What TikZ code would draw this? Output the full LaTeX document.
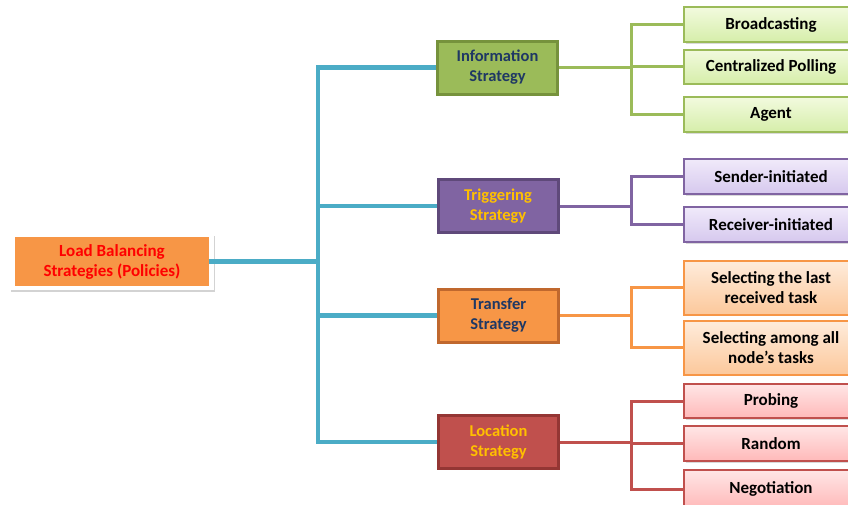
\documentclass[tikz,border=0pt]{standalone}
\usepackage{fontspec}
\setmainfont{Carlito}
\usetikzlibrary{shadows}
\definecolor{cblue}{HTML}{4BACC6}
\definecolor{cgreen}{HTML}{9BBB59}
\definecolor{cgreenD}{HTML}{76923C}
\definecolor{cpurple}{HTML}{8064A2}
\definecolor{cpurpleD}{HTML}{5F497A}
\definecolor{corange}{HTML}{F79646}
\definecolor{corangeD}{HTML}{C0682E}
\definecolor{cred}{HTML}{C0504D}
\definecolor{credD}{HTML}{943634}
\definecolor{cnavy}{HTML}{1F3864}
\definecolor{cgold}{HTML}{FFC000}
\tikzset{
  base/.style={rectangle, inner sep=0pt, align=center, font=\bfseries\fontsize{17}{20}\selectfont},
  mid/.style={base, minimum width=120pt, minimum height=53pt, line width=3pt,
    drop shadow={shadow xshift=1.5pt, shadow yshift=-1.5pt, opacity=0.25},
    font=\bfseries\fontsize{16.5}{20}\selectfont},
  leaf/.style={base, minimum width=174pt, line width=2pt, text=black,
    drop shadow={shadow xshift=1.5pt, shadow yshift=-1.5pt, opacity=0.3}},
  gleaf/.style={leaf, draw=cgreen, top color={rgb,255:red,242;green,250;blue,222}, bottom color={rgb,255:red,214;green,238;blue,170}},
  pleaf/.style={leaf, draw=cpurple, top color={rgb,255:red,240;green,234;blue,250}, bottom color={rgb,255:red,214;green,200;blue,238}},
  oleaf/.style={leaf, draw=corange, top color={rgb,255:red,254;green,236;blue,220}, bottom color={rgb,255:red,252;green,200;blue,155}},
  rleaf/.style={leaf, draw=cred, top color={rgb,255:red,255;green,230;blue,230}, bottom color={rgb,255:red,255;green,185;blue,185}},
  trunk/.style={draw=cblue, line width=4.5pt},
  twig/.style={line width=3pt}
}
\begin{document}
\begin{tikzpicture}[x=1pt,y=-1pt]
\useasboundingbox (0,0) rectangle (848,504);
% root
\node[base, fill=white, minimum width=204pt, minimum height=56pt,
  drop shadow={shadow xshift=1pt, shadow yshift=-2pt, opacity=0.35}] (rootframe) at (112,262) {};
\node[base, fill=corange, minimum width=194pt, minimum height=49pt, text=red] (root) at (112,261.5) {Load Balancing\\Strategies (Policies)};
% middle level
\node[mid, fill=cgreen, draw=cgreenD, text=cnavy] (info) at (497.5,67.5) {Information\\Strategy};
\node[mid, fill=cpurple, draw=cpurpleD, text=cgold] (trig) at (498,206) {Triggering\\Strategy};
\node[mid, fill=corange, draw=corangeD, text=cnavy] (trans) at (498.5,315.5) {Transfer\\Strategy};
\node[mid, fill=cred, draw=credD, text=cgold] (loc) at (498.5,442) {Location\\Strategy};
% leaves
\node[gleaf, minimum height=35pt] (b1) at (771,24.5) {Broadcasting};
\node[gleaf, minimum height=34pt] (b2) at (771,66.5) {Centralized Polling};
\node[gleaf, minimum height=35pt] (b3) at (771,114.5) {Agent};
\node[pleaf, minimum height=35pt] (p1) at (771,176.5) {Sender-initiated};
\node[pleaf, minimum height=35pt] (p2) at (771,224.5) {Receiver-initiated};
\node[oleaf, minimum height=54pt] (o1) at (771,287.5) {Selecting the last\\received task};
\node[oleaf, minimum height=54pt] (o2) at (771,347.5) {Selecting among all\\node’s tasks};
\node[rleaf, minimum height=34pt] (r1) at (771,401) {Probing};
\node[rleaf, minimum height=35pt] (r2) at (771,443.5) {Random};
\node[rleaf, minimum height=38pt] (r3) at (771,489) {Negotiation};
% trunk
\coordinate (tx) at (318,0);
\coordinate (ix) at (631,0);
\draw[trunk] (root.east) -- (root.east -| tx);
\draw[trunk, line join=miter] (info.west) -- (info.west -| tx) -- (loc.west -| tx) -- (loc.west);
\draw[trunk] (trig.west) -- (trig.west -| tx);
\draw[trunk] (trans.west) -- (trans.west -| tx);
% twigs
\draw[twig, draw=cgreen] (info.east) -- (info.east -| ix);
\draw[twig, draw=cgreen, line join=miter] (b1.west) -- (b1.west -| ix) -- (b3.west -| ix) -- (b3.west);
\draw[twig, draw=cgreen] (b2.west) -- (b2.west -| ix);
\draw[twig, draw=cpurple] (trig.east) -- (trig.east -| ix);
\draw[twig, draw=cpurple, line join=miter] (p1.west) -- (p1.west -| ix) -- (p2.west -| ix) -- (p2.west);
\draw[twig, draw=corange] (trans.east) -- (trans.east -| ix);
\draw[twig, draw=corange, line join=miter] (o1.west) -- (o1.west -| ix) -- (o2.west -| ix) -- (o2.west);
\draw[twig, draw=cred] (loc.east) -- (loc.east -| ix);
\draw[twig, draw=cred, line join=miter] (r1.west) -- (r1.west -| ix) -- (r3.west -| ix) -- (r3.west);
\draw[twig, draw=cred] (r2.west) -- (r2.west -| ix);
\end{tikzpicture}
\end{document}
